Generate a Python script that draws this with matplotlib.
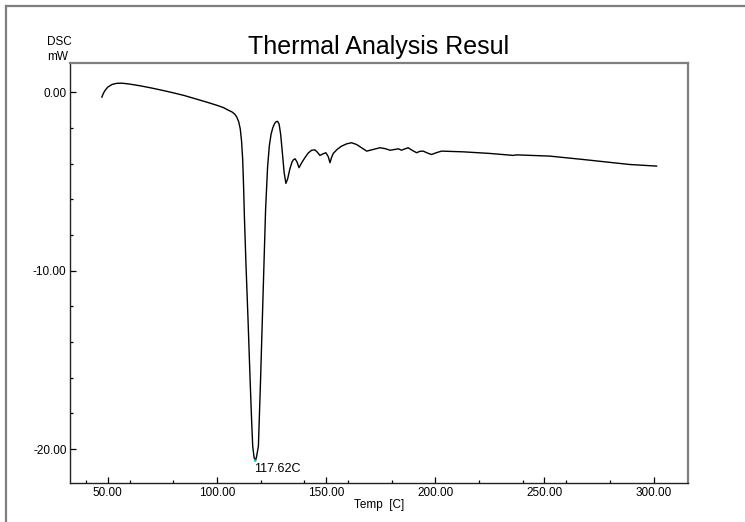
import matplotlib
matplotlib.use("Agg")
import matplotlib.pyplot as plt
from matplotlib.lines import Line2D
from matplotlib.ticker import MultipleLocator, FormatStrFormatter

# Data
temp = [47.3, 48.0, 48.8, 50.0, 52.0, 54.0, 56.5, 60.0, 65.0, 70.0, 75.0, 80.0, 85.0,
        90.0, 95.0, 100.0, 103.0, 105.0, 107.0, 108.2, 109.1, 110.0, 110.7, 111.3,
        111.8, 112.2, 112.6, 113.3, 114.3, 115.2, 115.9, 116.4, 117.0, 117.62,
        118.2, 119.0, 120.0, 121.1, 122.3, 123.2, 124.0, 124.8, 125.6, 126.4,
        127.1, 127.8, 128.5, 129.2, 130.0, 130.8, 131.6, 132.4, 133.4, 134.4,
        135.0, 135.8, 136.7, 137.6, 138.8, 140.3, 141.8, 143.4, 144.9, 146.0,
        147.2, 148.5, 149.9, 151.0, 151.8, 152.5, 153.3, 155.0, 157.1, 159.5,
        161.7, 164.0, 166.5, 168.6, 171.5, 174.7, 177.0, 179.3, 181.3, 183.1,
        184.6, 186.0, 187.6, 189.5, 191.5, 193.0, 194.5, 196.5, 198.3, 200.5,
        202.9, 212.8, 225.0, 235.7, 237.3, 252.5, 267.8, 289.1, 301.4]
dsc = [-0.26, -0.05, 0.12, 0.30, 0.45, 0.51, 0.52, 0.47, 0.37, 0.25, 0.12, -0.02,
       -0.17, -0.35, -0.53, -0.72, -0.85, -0.98, -1.10, -1.22, -1.38, -1.65, -2.05,
       -2.75, -3.75, -5.2, -7.0, -9.6, -12.9, -16.1, -18.4, -19.84, -20.45, -20.68,
       -20.4, -19.84, -16.1, -11.5, -6.56, -4.2, -3.0, -2.35, -1.98, -1.75,
       -1.64, -1.62, -1.78, -2.35, -3.4, -4.5, -5.1, -4.85, -4.3, -3.9,
       -3.78, -3.72, -3.9, -4.22, -3.95, -3.66, -3.4, -3.24, -3.22, -3.35,
       -3.53, -3.45, -3.38, -3.6, -3.94, -3.65, -3.42, -3.2, -3.01, -2.88,
       -2.82, -2.92, -3.12, -3.29, -3.2, -3.10, -3.15, -3.24, -3.2, -3.16,
       -3.24, -3.17, -3.10, -3.25, -3.38, -3.3, -3.29, -3.4, -3.48, -3.38,
       -3.29, -3.33, -3.42, -3.53, -3.50, -3.57, -3.76, -4.04, -4.13]
peak_temp = 117.62
peak_dsc = -20.68
peak_label = "117.62C"

x_major = 50
x_minor = 20
y_major = 10
y_minor = 2

W, H = 745, 522
fig = plt.figure(figsize=(W / 100, H / 100), dpi=100)
fig.patch.set_facecolor("white")

narrow = ["Liberation Sans Narrow", "Liberation Sans", "DejaVu Sans"]
regular = ["Liberation Sans", "DejaVu Sans"]

# outer frame (left and top edges)
fig.add_artist(Line2D([6 / W, 6 / W], [0, 1 - 5.5 / H], transform=fig.transFigure,
                      color="#7f7f7f", lw=1.6))
fig.add_artist(Line2D([6 / W, 1], [1 - 5.5 / H, 1 - 5.5 / H], transform=fig.transFigure,
                      color="#7f7f7f", lw=1.6))

ax_l, ax_r, ax_t, ax_b = 70, 688, 62.5, 483.3
ax = fig.add_axes([ax_l / W, 1 - ax_b / H, (ax_r - ax_l) / W, (ax_b - ax_t) / H])
ax.plot(temp, dsc, color="black", lw=1.0)
# cyan tip at the peak
ax.plot([117.3, peak_temp], [-20.62, peak_dsc], color="#00e0e0", lw=1.2)
ax.annotate(peak_label, xy=(peak_temp, peak_dsc), xytext=(-1, -1.5),
            textcoords="offset points", ha="left", va="top",
            fontsize=9, family=regular)

ax.set_xlim(32.7, 315.8)
ax.set_ylim(-21.92, 1.68)
ax.xaxis.set_major_locator(MultipleLocator(x_major))
ax.xaxis.set_minor_locator(MultipleLocator(x_minor))
ax.yaxis.set_major_locator(MultipleLocator(y_major))
ax.yaxis.set_minor_locator(MultipleLocator(y_minor))
ax.xaxis.set_major_formatter(FormatStrFormatter("%.2f"))
ax.yaxis.set_major_formatter(FormatStrFormatter("%.2f"))
ax.tick_params(which="major", direction="in", length=4, width=0.9, pad=2.5,
               labelsize=8.5, colors="black")
ax.tick_params(which="minor", direction="in", length=2.5, width=0.9)
for lab in ax.get_xticklabels() + ax.get_yticklabels():
    lab.set_family(narrow)
for side in ["left", "bottom"]:
    ax.spines[side].set_color("#222222")
    ax.spines[side].set_linewidth(1.0)
for side in ["top", "right"]:
    ax.spines[side].set_color("#7f7f7f")
    ax.spines[side].set_linewidth(1.6)

cx = (ax_l + ax_r) / 2 / W
fig.text(cx, 1 - 47 / H, "Thermal Analysis Resul", ha="center", va="center",
         fontsize=18, family=regular)
fig.text(59 / W, 1 - 42 / H, "DSC", ha="center", va="center", fontsize=8.5, family=narrow)
fig.text(58 / W, 1 - 56.7 / H, "mW", ha="center", va="center", fontsize=8.5, family=narrow)
fig.text(cx, 1 - 505 / H, "Temp  [C]", ha="center", va="center", fontsize=8.5, family=narrow)

fig.savefig("out.png", dpi=100)
